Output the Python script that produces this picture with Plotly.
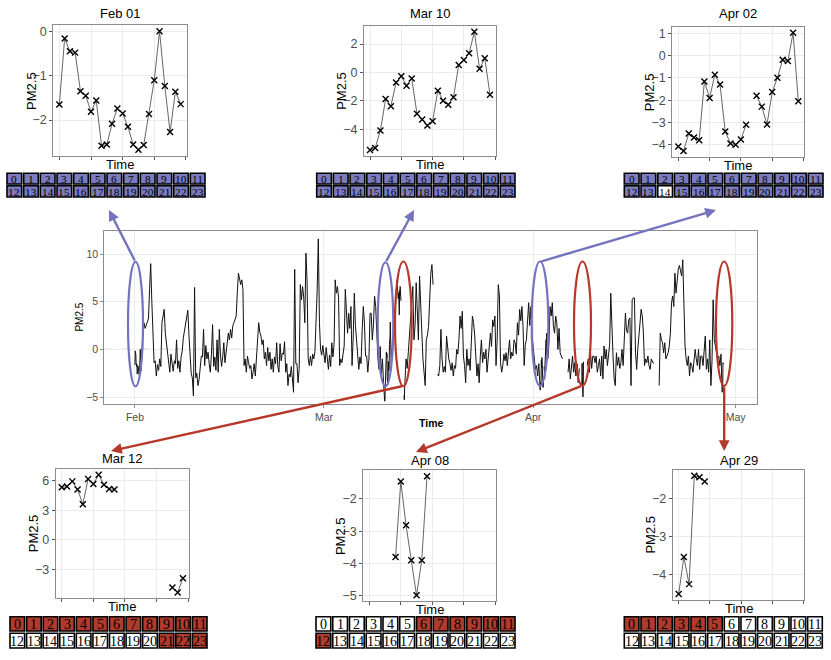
import plotly.graph_objects as go
import pandas as pd

W, H = 831, 660
YEAR = 2019
SANS = "Liberation Sans, Arial, sans-serif"
SERIF = "Liberation Serif, Times New Roman, serif"
BLUE_FILL = "#7B7BBF"
RED_FILL = "#B03A2B"
BLUE_LINE = "#7373BE"
RED_LINE = "#B5382A"

# ---------------- hourly values of the six highlighted days ----------------
feb01_vals = [-1.65, -0.16, -0.45, -0.48, -1.35, -1.45, -1.81, -1.56, -2.58, -2.55, -2.08, -1.74,
              -1.85, -2.15, -2.55, -2.67, -2.56, -1.86, -1.10, 0.00, -1.23, -2.27, -1.36, -1.64]
mar10_vals = [-5.44, -5.30, -4.07, -1.86, -2.37, -0.70, -0.26, -0.93, -0.42, -2.90, -3.30, -3.72,
              -3.42, -1.28, -1.98, -2.26, -1.74, 0.53, 0.88, 1.35, 2.86, 0.26, 1.00, -1.56]
apr02_vals = [-4.08, -4.28, -3.50, -3.68, -3.80, -1.16, -1.90, -0.86, -1.30, -3.41, -3.95, -4.00,
              -3.77, -3.10, None, -1.80, -2.29, -3.09, -1.63, -0.99, -0.18, -0.24, 1.03, -2.05]
mar12_vals = [5.33, 5.40, 5.93, 5.10, 3.62, 6.17, 5.67, 6.60, 5.60, 5.17, 5.10, None,
              None, None, None, None, None, None, None, None, None, -4.80, -5.30, -3.86]
apr08_vals = [None, None, None, None, None, -3.80, -1.46, -2.82, -3.90, -4.99, -3.90, -1.30,
              None, None, None, None, None, None, None, None, None, None, None, None]
apr29_vals = [-4.50, -3.53, -4.24, -1.40, -1.44, -1.55, None, None, None, None, None, None,
              None, None, None, None, None, None, None, None, None, None, None, None]

# hours marked in the 24-cell strips under each panel
feb01_cells = list(range(24))
mar10_cells = list(range(24))
apr02_cells = [h for h in range(24) if h != 14]
mar12_cells = list(range(12)) + [21, 22, 23]
apr08_cells = list(range(6, 13))
apr29_cells = list(range(6))

# ---------------- main series: 4-hourly readings (hours 0,4,8,12,16,20) ----------------
feb_4h = [
    None,                                  # Feb 01 (hourly above)
    [-0.5, 1.5, 2.8, 2.2, 2.6, 3.0],       # Feb 02
    [3.2, 6.3, 9.0, 5.0, 0.8, -1.4],
    [-1.2, -2.8, -1.6, -2.2, -1.0, -1.8],
    [2.8, 3.6, 4.2, 1.7, 0.6, -0.4],
    [-1.0, -2.4, -0.5, -1.8, -2.3, -1.2],
    [-1.5, 1.0, -2.0, -1.2, -2.4, -0.8],
    [-0.2, 1.2, 2.0, 3.0, 3.8, 4.1],
    [1.5, -1.2, -2.5, -3.0, -4.9, 6.5],
    [-3.0, -2.5, -3.8, -3.2, -2.0, -0.7],
    [-0.8, 2.1, -1.7, 0.4, -1.0, -0.3],
    [-1.5, -2.4, -0.5, 2.6, -1.8, -0.8],
    [-2.2, 1.0, -2.4, 2.1, -0.6, -1.8],
    [-0.8, 0.7, -1.4, -0.3, 0.4, 1.7],
    [1.0, 2.1, 1.2, 2.5, 2.8, 3.1],
    [3.5, 6.0, 8.0, 7.4, 6.8, 7.3],
    [6.3, -1.7, -1.0, -2.4, -0.7, -1.4],
    [-2.0, -1.7, -3.1, -2.4, -1.5, -2.8],
    [-1.2, 0.5, 2.8, 1.8, 1.4, 0.5],
    [1.0, -1.0, -0.3, -1.7, 0.2, -1.2],
    [-0.3, -2.1, -1.0, -2.4, -0.8, -1.5],
    [0.7, -1.8, -2.4, 0.6, -1.2, -0.4],
    [-0.5, 0.8, -2.4, -1.5, -3.8, -2.6],
    [-2.9, -1.8, -3.5, -4.5, 8.4, -1.5],
    [-1.5, -3.5, -2.0, 6.8, 5.2, 6.6],
    [5.5, 2.8, 10.1, 7.2, -1.0, -1.7],
    [-0.7, -1.7, -0.5, -1.0, -0.2, 2.4],
    [6.3, 11.6, 2.8, 0.0, -0.6, 0.4],      # Feb 28
]
mar_4h = [
    [-0.5, -1.4, 0.2, -1.0, -2.1, -0.6],   # Mar 01
    [-1.8, 0.7, -0.8, 0.5, 7.3, 5.9],
    [6.6, 5.5, -1.7, -1.0, -1.4, -0.5],
    [0.35, 6.3, 3.0, 1.7, 3.8, 2.2],
    [4.5, -1.7, 1.2, 5.9, 2.5, 1.0],
    [-0.5, -2.1, -0.8, -1.5, 2.0, 4.5],
    [2.8, -0.7, -0.7, -2.4, -1.0, 3.8],
    [3.8, 1.0, 2.5, 5.6, 4.5, 0.5],
    [-1.0, -2.1, 0.3, -2.8, -1.0, -3.5],
    None,                                  # Mar 10 (hourly above)
    [-1.5, 1.0, 1.0, 3.5, 6.3, 7.3],
    None,                                  # Mar 12 (hourly above)
    [-3.5, -1.0, -2.0, -0.3, 1.5, 2.8],
    [4.5, 6.6, 1.0, 2.5, 7.0, 3.5],
    [1.0, 7.7, 4.0, 1.0, -1.0, -2.4],
    [-3.8, 1.0, 1.5, 2.4, 6.3, 8.0],
    [8.9, 6.8, None, None, None, -2.6],
    [-2.8, -1.7, 2.1, -1.0, -2.4, -1.8],
    [-2.4, 1.4, 0.0, -1.0, -1.5, -2.2],
    [-1.4, -2.8, -1.7, -2.0, 0.0, -0.5],
    [1.0, 3.5, 2.2, 4.0, -0.7, -1.7],
    [-3.5, 0.0, -1.7, -1.0, -2.2, 0.5],
    [3.5, 2.8, 1.5, -0.7, -2.8, -1.5],
    [-3.5, -0.7, 1.0, -1.4, -0.3, -1.0],
    [0.0, -2.4, -1.0, 0.5, 1.7, 0.3],
    [3.1, 2.4, 3.5, -1.7, 1.0, 6.8],
    [5.6, -1.4, -2.4, -1.7, -0.5, -1.2],
    [-0.35, -1.7, 0.0, 1.0, -1.0, -0.3],
    [-0.7, 1.0, 0.7, -0.5, 2.8, 1.5],
    [4.2, 3.0, 4.5, 2.4, -1.7, 0.5],
    [1.0, 3.5, 4.9, 2.5, 4.5, 1.4],        # Mar 31
]
apr_4h = [
    [0.0, -0.7, -2.1, -1.7, -2.8, -1.5],   # Apr 01
    None,                                  # Apr 02 (hourly above)
    [1.7, -1.0, 0.5, 4.5, 3.5, 4.9],
    [2.4, 1.7, 3.5, 2.8, 0.0, 2.2],
    [-0.35, -0.7, -1.0, None, None, None],
    [None, -2.4, -1.0, -3.1, -1.7, -0.7],
    [-2.4, -1.4, -2.8, -1.5, -3.5, -2.0],
    None,                                  # Apr 08 (hourly above)
    [-1.7, -1.0, -2.4, -0.35, -2.0, -0.7],
    [-0.7, -1.4, -0.7, -2.4, -1.7, -1.0],
    [-2.8, -0.7, -3.1, 0.35, -1.0, 0.0],
    [-1.7, -0.35, 0.5, 5.9, 1.0, -0.7],
    [-3.1, -3.8, -0.35, -1.7, -0.8, -2.0],
    [-1.4, 0.0, -1.7, 2.4, 3.8, 2.0],
    [1.7, 3.1, 3.3, -3.8, 5.2, 5.4],
    [5.4, -0.35, -2.1, 0.0, 1.5, 3.1],
    [4.2, 3.5, 1.7, -1.7, -1.0, -1.4],
    [-0.7, -1.7, -2.1, -1.0, -1.2, -1.5],
    [None, None, None, None, -3.8, 1.7],
    [1.0, 0.7, -0.35, 0.7, -1.0, -0.7],
    [-0.35, 0.35, 1.7, 4.9, 5.6, 4.5],
    [8.0, 5.9, 7.3, 8.4, 8.8, 8.0],
    [7.7, 9.4, 4.5, 0.35, -1.0, -1.7],
    [-0.7, -2.8, -1.4, -1.7, -2.4, -1.0],
    [0.0, -1.0, -1.7, 0.0, -2.1, -0.7],
    [-0.7, -1.7, -0.35, 1.4, -2.1, -1.0],
    [-2.4, 1.0, -3.8, -1.2, 5.2, 1.0],
    [0.35, -0.35, -1.0, -0.7, -1.7, -0.5],
    None,                                  # Apr 29 (hourly above)
]

month_ticks = ["Feb", "Mar", "Apr", "May"]
main_yticks = [-5, 0, 5, 10]

detail_days = {(2, 1): feb01_vals, (3, 10): mar10_vals, (3, 12): mar12_vals,
               (4, 2): apr02_vals, (4, 8): apr08_vals, (4, 29): apr29_vals}

times, values = [], []
for month, rows in ((2, feb_4h), (3, mar_4h), (4, apr_4h)):
    for i, row in enumerate(rows):
        base = pd.Timestamp(YEAR, month, i + 1)
        if (month, i + 1) in detail_days:
            for h, v in enumerate(detail_days[(month, i + 1)]):
                times.append(base + pd.Timedelta(hours=h))
                values.append(v)
        else:
            for k, v in enumerate(row):
                times.append(base + pd.Timedelta(hours=4 * k))
                values.append(v)


def px(x):
    return x / W


def py(y):
    return 1 - y / H


fig = go.Figure()
annotations = []
shapes = []


def text(x, y, s, size, color="black", family=SANS, angle=0, xanchor="center", yanchor="middle"):
    annotations.append(dict(x=px(x), y=py(y), xref="paper", yref="paper", text=s, showarrow=False,
                            font=dict(size=size, color=color, family=family), textangle=angle,
                            xanchor=xanchor, yanchor=yanchor, borderpad=0))


# ---------------- main chart ----------------
ML, MR, MT, MB = 104.3, 757.3, 231, 405
fig.add_trace(go.Scatter(x=times, y=values, mode="lines", line=dict(color="#111111", width=1.0),
                         xaxis="x", yaxis="y", hoverinfo="skip"))
month_dates = [pd.Timestamp(YEAR, m, 1) for m in (2, 3, 4, 5)]
layout = dict(
    xaxis=dict(domain=[px(ML), px(MR)], anchor="y", type="date",
               range=[pd.Timestamp(YEAR, 1, 27, 11), pd.Timestamp(YEAR, 5, 4, 5)],
               tickvals=month_dates, ticktext=month_ticks, showgrid=True, gridcolor="#EBEBEB",
               showline=True, mirror=True, linecolor="#8C8C8C", linewidth=1, zeroline=False,
               ticks="outside", ticklen=3, tickcolor="#8C8C8C",
               tickfont=dict(size=10.5, color="#4D4D4D", family=SANS)),
    yaxis=dict(domain=[py(MB), py(MT)], anchor="x", range=[-5.75, 12.43], tickvals=main_yticks,
               showgrid=True, gridcolor="#EBEBEB", showline=True, mirror=True, linecolor="#8C8C8C",
               linewidth=1, zeroline=False, ticks="outside", ticklen=3, tickcolor="#8C8C8C",
               tickfont=dict(size=10.5, color="#4D4D4D", family=SANS)),
)
shapes.append(dict(type="line", xref="x domain", yref="y", x0=0, x1=1, y0=0, y1=0,
                   line=dict(color="#7F7F7F", width=1, dash="dash"), layer="below"))
text(80, 318, "PM2.5", 10, angle=-90)
text(431, 424, "<b>Time</b>", 10.5)

# ---------------- small panels ----------------
TOP_ROWS = [(172.5, 184.5), (185, 197.5)]
BOT_ROWS = [(618, 633.5), (634.5, 650.5)]
panels = [
    dict(title="Feb 01", vals=feb01_vals, cells=feb01_cells, fill=BLUE_FILL, box=(53.3, 186.7, 24.5, 155.5),
         yt=[-2, -1, 0], grid=(6, 206, TOP_ROWS), fs=11.3, ty=13),
    dict(title="Mar 10", vals=mar10_vals, cells=mar10_cells, fill=BLUE_FILL, box=(364, 496, 25, 155.5),
         yt=[-4, -2, 0, 2], grid=(315.7, 516, TOP_ROWS), fs=11.3, ty=13),
    dict(title="Apr 02", vals=apr02_vals, cells=apr02_cells, fill=BLUE_FILL, box=(672.3, 804.3, 26, 156.5),
         yt=[-4, -3, -2, -1, 0, 1], grid=(623.3, 824, TOP_ROWS), fs=11.3, ty=13),
    dict(title="Mar 12", vals=mar12_vals, cells=mar12_cells, fill=RED_FILL, box=(55.7, 189, 470, 600),
         yt=[-3, 0, 3, 6], grid=(9, 208, BOT_ROWS), fs=14, ty=460),
    dict(title="Apr 08", vals=apr08_vals, cells=apr08_cells, fill=RED_FILL, box=(363.3, 496, 471.5, 603),
         yt=[-5, -4, -3, -2], grid=(315, 516, BOT_ROWS), fs=14, ty=461.5),
    dict(title="Apr 29", vals=apr29_vals, cells=apr29_cells, fill=RED_FILL, box=(672.7, 804.3, 471, 601.7),
         yt=[-4, -3, -2], grid=(623.3, 823.3, BOT_ROWS), fs=14, ty=461.5),
]

hours = list(range(24))
for n, p in enumerate(panels, start=2):
    l, r, t, b = p["box"]
    vv = [v for v in p["vals"] if v is not None]
    lo, hi = min(vv), max(vv)
    pad = 0.05 * (hi - lo)
    xa, ya = f"xaxis{n}", f"yaxis{n}"
    fig.add_trace(go.Scatter(x=hours, y=p["vals"], mode="lines+markers", xaxis=f"x{n}", yaxis=f"y{n}",
                             line=dict(color="#555555", width=0.9),
                             marker=dict(symbol="x-thin", size=6, line=dict(width=1.4, color="black")),
                             hoverinfo="skip"))
    layout[xa] = dict(domain=[px(l), px(r)], anchor=f"y{n}", range=[-1.15, 24.15], tickvals=[0, 6, 12, 18, 24],
                      showticklabels=False, ticks="outside", ticklen=3, tickcolor="#555555",
                      showgrid=True, gridcolor="#EBEBEB", zeroline=False, showline=True, mirror=True,
                      linecolor="#8C8C8C", linewidth=1)
    layout[ya] = dict(domain=[py(b), py(t)], anchor=f"x{n}", range=[lo - pad, hi + pad], tickvals=p["yt"],
                      ticks="outside", ticklen=3, tickcolor="#555555", showgrid=True, gridcolor="#EBEBEB",
                      zeroline=False, showline=True, mirror=True, linecolor="#8C8C8C", linewidth=1,
                      tickfont=dict(size=12.5, color="#4D4D4D", family=SANS))
    cx = (l + r) / 2
    text(cx, p["ty"], p["title"], 13)
    text(cx, b + 8.5, "Time", 13)
    text(l - 22, (t + b) / 2, "PM2.5", 13, angle=-90)
    # cell strip
    gx0, gx1, rows = p["grid"]
    cw = (gx1 - gx0) / 12
    for h in range(24):
        row = h // 12
        col = h % 12
        y0, y1 = rows[row]
        x0 = gx0 + col * cw
        fill = p["fill"] if h in p["cells"] else "white"
        shapes.append(dict(type="rect", xref="paper", yref="paper",
                           x0=px(x0 + 1.0), x1=px(x0 + cw - 1.0), y0=py(y1 - 0.6), y1=py(y0 + 0.6),
                           fillcolor=fill, line=dict(color="black", width=1.6), layer="above"))
        text(x0 + cw / 2, (y0 + y1) / 2 + 0.5, str(h), p["fs"], family=SERIF)

# ---------------- ellipses and arrows ----------------
ellipses = [
    ((128, 143, 262, 387), BLUE_LINE), ((377.7, 393.3, 262.5, 387), BLUE_LINE),
    ((395, 411.7, 261.7, 387), RED_LINE), ((531.7, 548.3, 261.7, 386.7), BLUE_LINE),
    ((574, 591, 261.7, 386.7), RED_LINE), ((716, 732.3, 261.7, 386.7), RED_LINE),
]
for (x0, x1, y0, y1), c in ellipses:
    shapes.append(dict(type="circle", xref="paper", yref="paper", x0=px(x0), x1=px(x1), y0=py(y1), y1=py(y0),
                       line=dict(color=c, width=2.2), layer="above"))

arrows = [
    ((135.5, 262), (109, 210), BLUE_LINE), ((385.5, 262.5), (414, 210), BLUE_LINE),
    ((540, 261.7), (716, 210), BLUE_LINE), ((403.3, 387), (111, 452), RED_LINE),
    ((582.5, 386.7), (416, 453), RED_LINE), ((724.2, 386.7), (724.2, 452), RED_LINE),
]
for (tx, ty), (hx, hy), c in arrows:
    annotations.append(dict(x=px(hx), y=py(hy), xref="paper", yref="paper", ax=tx - hx, ay=ty - hy,
                            axref="pixel", ayref="pixel", text="", showarrow=True, arrowhead=2,
                            arrowsize=0.9, arrowwidth=2.4, arrowcolor=c, standoff=0))

layout.update(width=W, height=H, margin=dict(l=0, r=0, t=0, b=0), paper_bgcolor="white",
              plot_bgcolor="white", showlegend=False, shapes=shapes, annotations=annotations)
fig.update_layout(**layout)
fig.write_html("out.html", config={"displayModeBar": False},
               post_script="document.body.style.margin='0px';")
